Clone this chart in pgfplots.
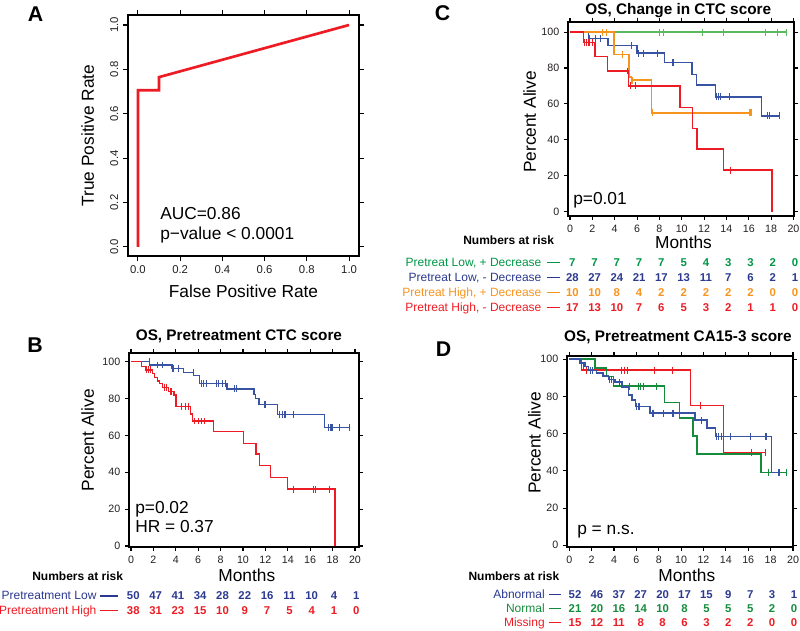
\documentclass[border=0pt]{standalone}
\usepackage{pgfplots}
\pgfplotsset{compat=1.18}
\usepackage{fontspec}
\setmainfont{Liberation Sans}
\definecolor{kmred}{RGB}{237,28,36}
\definecolor{kmblue}{RGB}{57,83,164}
\definecolor{txtblue}{RGB}{43,57,144}
\definecolor{kmgreenC}{RGB}{92,184,92}
\definecolor{txtgreen}{RGB}{0,150,70}
\definecolor{kmgreenD}{RGB}{20,140,60}
\definecolor{kmorange}{RGB}{247,148,29}
\definecolor{tickgray}{RGB}{35,31,32}
\pgfplotsset{
  every axis title shift=0pt,
  kmaxis/.style={anchor=south west, scale only axis, clip=false,
    axis line style={line width=1.1pt, black},
    tick align=outside, major tick length=3pt,
    tick style={line width=0.8pt, black},
    xtick={0,2,...,20}, ytick={0,20,...,100},
    ticklabel style={font=\fontsize{8}{8}\selectfont, text=tickgray},
    /pgf/number format/assume math mode=true,
    title style={font=\fontsize{11.5}{12}\selectfont\bfseries, anchor=center},
    label style={font=\fontsize{13}{14}\selectfont},
    xlabel={Months}, ylabel={Percent Alive}},
  km/.style={const plot, line width=1.1pt, mark=none},
  cens/.style={only marks, mark=|, mark size=2.6pt, mark options={line width=0.8pt}},
}
\begin{document}
\begin{tikzpicture}
\path[use as bounding box] (0,0) rectangle (600pt,473.25pt);

% ---------------- A ----------------
\begin{axis}[anchor=south west, at={(96pt,281.25pt)}, scale only axis,
  width=173.25pt, height=180.75pt,
  xmin=-0.047, xmax=1.047, ymin=-0.041, ymax=1.045,
  axis line style={line width=1.1pt, black},
  tick align=outside, major tick length=3.75pt,
  tick style={line width=0.8pt, black},
  xtick={0,0.2,0.4,0.6,0.8,1}, ytick={0,0.2,0.4,0.6,0.8,1},
  xticklabels={0.0,0.2,0.4,0.6,0.8,1.0}, yticklabels={0.0,0.2,0.4,0.6,0.8,1.0},
  ticklabel style={font=\fontsize{8.5}{9}\selectfont, text=tickgray},
  yticklabel style={rotate=90, anchor=south},
  label style={font=\fontsize{13}{14}\selectfont},
  xlabel={False Positive Rate}, ylabel={True Positive Rate},
  xlabel style={at={(axis description cs:0.5,-0.148)}, anchor=center},
  ylabel style={at={(axis description cs:-0.175,0.5)}, anchor=center}]
\addplot[kmred, line width=2pt, mark=none] coordinates {(0,0) (0,0.706) (0.1,0.706) (0.1,0.765) (1,1)};
\end{axis}

% ---------------- B ----------------
\begin{axis}[kmaxis, at={(96.75pt,63pt)}, width=172.5pt, height=145.5pt,
  xmin=-0.18, xmax=20.36, ymin=-0.54, ymax=104.7,
  title={OS, Pretreatment CTC score},
  title style={at={(axis description cs:0.478,1.084)}},
  xlabel style={at={(axis description cs:0.512,-0.144)}, anchor=center},
  ylabel style={at={(axis description cs:-0.18,0.55)}, anchor=center}]
\addplot[km, kmblue] coordinates {(0,100) (1.65,98.2) (3.65,96.3) (4.7,94.2) (5.6,92.4) (6.1,88.2) (8.57,85.2) (10.98,82.1) (11.13,80.1) (11.43,76.9) (13.07,71.4) (17.3,64.4) (19.55,64.4)};
\addplot[cens, kmblue] coordinates {(1.64,100) (2.35,98.2) (2.8,98.2) (3.75,96.3) (4.2,96.3) (5.57,94.2) (6.3,88.2) (6.5,88.2) (6.7,88.2) (7.6,88.2) (7.8,88.2) (8.2,88.2) (8.45,88.2) (9.25,85.2) (9.43,85.2) (11.9,76.9) (12.05,76.9) (13.3,71.4) (13.5,71.4) (13.75,71.4) (14.55,71.4) (17.65,64.4) (17.8,64.4) (17.95,64.4) (18.66,64.4) (19.5,64.4)};
\addplot[km, kmred] coordinates {(0,100) (0.95,97.4) (1.3,95.5) (1.93,93.5) (2.1,91.5) (2.35,89.5) (2.55,88.2) (2.8,86.1) (3.33,83.7) (3.84,81.8) (4.0,75.6) (5.33,71.6) (5.48,67.8) (7.35,62) (10.03,55.7) (11.16,49.9) (11.46,43.6) (12.47,37.3) (13.96,30.9) (18.2,0)};
\addplot[cens, kmred] coordinates {(1.4,95.5) (1.6,95.5) (1.75,95.5) (2.95,86.1) (3.15,86.1) (3.5,83.7) (3.65,83.7) (4.5,75.6) (4.9,75.6) (5.15,75.6) (5.7,67.8) (6.05,67.8) (6.3,67.8) (6.6,67.8) (14.5,30.9) (16.3,30.9) (16.45,30.9) (17.7,30.9)};
\end{axis}

% ---------------- C ----------------
\begin{axis}[kmaxis, at={(426pt,311.25pt)}, width=169.5pt, height=145.5pt,
  xmin=-0.18, xmax=20.05, ymin=-2.4, ymax=105.6,
  title={OS, Change in CTC score},
  title style={at={(axis description cs:0.488,1.057)}},
  xlabel style={at={(axis description cs:0.511,-0.137)}, anchor=center},
  ylabel style={at={(axis description cs:-0.17,0.485)}, anchor=center}]
\addplot[km, kmgreenC] coordinates {(0,100) (19.45,100)};
\addplot[cens, kmgreenC] coordinates {(8.05,100) (8.35,100) (11.9,100) (13.75,100) (17.5,100) (18.55,100) (19.4,100)};
\addplot[km, kmblue] coordinates {(0,100) (1.65,96.3) (3.4,92.6) (6.0,88.3) (8.45,83) (10.9,76.5) (11.3,70.4) (13.0,63.9) (17.15,53.3) (18.8,53.3)};
\addplot[cens, kmblue] coordinates {(1.75,96.3) (2.24,96.3) (2.69,96.3) (5.5,92.6) (6.15,88.3) (6.57,88.3) (7.8,88.3) (9.15,83) (9.3,83) (13.15,63.9) (13.3,63.9) (13.45,63.9) (14.3,63.9) (17.66,53.3) (17.84,53.3) (18.75,53.3)};
\addplot[km, kmorange] coordinates {(0,100) (3.94,87.6) (5.3,75) (5.5,73.2) (7.3,55) (16.25,55)};
\addplot[cens, kmorange] coordinates {(2.9,100) (3.3,100) (4.7,87.6) (5.55,73.2) (7.35,55) (16.1,55) (16.2,55)};
\addplot[km, kmred] coordinates {(0,100) (1.19,94.1) (2.24,86.5) (3.37,78.3) (5.22,70) (9.85,58) (10.98,46.3) (11.35,34.8) (13.73,23.1) (18.06,0)};
\addplot[cens, kmred] coordinates {(1.3,94.1) (1.5,94.1) (1.7,94.1) (2.0,94.1) (5.13,78.3) (5.45,70) (5.9,70) (14.33,23.1)};
\end{axis}

% ---------------- D ----------------
\begin{axis}[kmaxis, at={(425.25pt,63pt)}, width=169.5pt, height=143.25pt,
  xmin=-0.2, xmax=20, ymin=-0.9, ymax=101.7,
  title={OS, Pretreatment CA15-3 score},
  title style={at={(axis description cs:0.491,1.097)}},
  xlabel style={at={(axis description cs:0.53,-0.147)}, anchor=center},
  ylabel style={at={(axis description cs:-0.144,0.545)}, anchor=center}]
\addplot[km, kmred] coordinates {(0,100) (1.1,94.1) (10.85,75.1) (13.8,50) (17.5,50)};
\addplot[cens, kmred] coordinates {(1.56,94.1) (4.7,94.1) (4.95,94.1) (5.2,94.1) (7.6,94.1) (9.2,94.1) (11.75,75.1) (16.3,50) (17.5,50)};
\addplot[km, kmgreenD] coordinates {(0,100) (2.3,95.2) (3.35,90.7) (3.95,85.5) (8.5,76.7) (9.85,68.3) (11.05,58.8) (11.4,49.1) (17.15,39.2) (19.5,39.2)};
\addplot[cens, kmgreenD] coordinates {(5.4,85.5) (6.2,85.5) (6.35,85.5) (6.6,85.5) (7.8,85.5) (17.8,39.2) (18.7,39.2) (19.45,39.2)};
\addplot[km, kmblue] coordinates {(0,100) (0.95,98) (1.4,96) (1.7,94) (2.45,92.5) (3.0,91) (3.5,89) (4.1,87.7) (4.7,85) (5.3,80.8) (5.6,78.1) (5.9,74.5) (7.2,71) (11.25,67.2) (12.3,62.9) (13.05,58.4) (18.1,39) (18.8,39)};
\addplot[cens, kmblue] coordinates {(1.3,96) (1.9,94) (2.1,94) (3.6,89) (3.8,89) (4.5,87.7) (6.0,74.5) (6.15,74.5) (6.3,74.5) (7.4,71) (7.55,71) (8.4,71) (9.2,71) (9.35,71) (11.85,67.2) (13.2,58.4) (13.35,58.4) (13.6,58.4) (14.4,58.4) (16.2,58.4) (17.5,58.4) (17.65,58.4) (18.75,39)};
\end{axis}

% ---------------- text in pixel coordinates ----------------
\begin{scope}[x=0.75pt, y=-0.75pt, yshift=473.25pt]
\tikzset{lett/.style={font=\fontsize{16}{16}\selectfont\bfseries, inner sep=0pt},
  ann/.style={font=\fontsize{13}{14}\selectfont, anchor=base west, inner sep=0pt},
  nar/.style={font=\fontsize{9}{10}\selectfont\bfseries, anchor=base west, inner sep=0pt},
  rlab/.style={font=\fontsize{9}{10}\selectfont, anchor=base east, inner sep=0pt},
  rnum/.style={font=\fontsize{8.5}{10}\selectfont\bfseries, anchor=base, inner sep=0pt}}
\node[lett] at (35.5,14.5) {A};
\node[lett] at (35,345.5) {B};
\node[lett] at (442.5,13.5) {C};
\node[lett] at (443.5,349.5) {D};
\node[ann] at (160,220) {AUC=0.86};
\node[ann] at (160,240) {p−value < 0.0001};
\node[ann] at (135,513.3) {p=0.02};
\node[ann] at (135,532.7) {HR = 0.37};
\node[ann] at (573,205) {p=0.01};
\node[ann] at (577,535) {p = n.s.};
% B risk table
\node[nar] at (32,580.7) {Numbers at risk};
\node[rlab, text=txtblue] at (96.7,600) {Pretreatment Low};
\draw[txtblue, line width=0.8pt] (100,596) -- (118.3,596);
\foreach \v [count=\k from 0] in {50,47,41,34,28,22,16,11,10,4,1}
  \node[rnum, text=txtblue] at ({133.3+22.3*\k},600) {\v};
\node[rlab, text=kmred] at (96.7,614.3) {Pretreatment High};
\draw[kmred, line width=0.8pt] (100,610.3) -- (118.3,610.3);
\foreach \v [count=\k from 0] in {38,31,23,15,10,9,7,5,4,1,0}
  \node[rnum, text=kmred] at ({133.3+22.3*\k},614.3) {\v};
% C risk table
\node[nar] at (463,245) {Numbers at risk};
\node[rlab, text=txtgreen] at (541.7,266.7) {Pretreat Low, + Decrease};
\draw[txtgreen, line width=0.8pt] (546.7,262.7) -- (560,262.7);
\foreach \v [count=\k from 0] in {7,7,7,7,7,5,4,3,3,2,0}
  \node[rnum, text=txtgreen] at ({572.3+22.27*\k},266.7) {\v};
\node[rlab, text=txtblue] at (541.7,281.7) {Pretreat Low, - Decrease};
\draw[txtblue, line width=0.8pt] (546.7,277.7) -- (560,277.7);
\foreach \v [count=\k from 0] in {28,27,24,21,17,13,11,7,6,2,1}
  \node[rnum, text=txtblue] at ({572.3+22.27*\k},281.7) {\v};
\node[rlab, text=kmorange] at (541.7,296.7) {Pretreat High, + Decrease};
\draw[kmorange, line width=0.8pt] (546.7,292.7) -- (560,292.7);
\foreach \v [count=\k from 0] in {10,10,8,4,2,2,2,2,2,0,0}
  \node[rnum, text=kmorange] at ({572.3+22.27*\k},296.7) {\v};
\node[rlab, text=kmred] at (541.7,311.7) {Pretreat High, - Decrease};
\draw[kmred, line width=0.8pt] (546.7,307.7) -- (560,307.7);
\foreach \v [count=\k from 0] in {17,13,10,7,6,5,3,2,1,1,0}
  \node[rnum, text=kmred] at ({572.3+22.27*\k},311.7) {\v};
% D risk table
\node[nar] at (468.3,580.7) {Numbers at risk};
\node[rlab, text=txtblue] at (545,598.3) {Abnormal};
\draw[txtblue, line width=0.8pt] (549.3,594.3) -- (560.7,594.3);
\foreach \v [count=\k from 0] in {52,46,37,27,20,17,15,9,7,3,1}
  \node[rnum, text=txtblue] at ({575+21.9*\k},598.3) {\v};
\node[rlab, text=kmgreenD] at (545,612.3) {Normal};
\draw[kmgreenD, line width=0.8pt] (549.3,608.3) -- (560.7,608.3);
\foreach \v [count=\k from 0] in {21,20,16,14,10,8,5,5,5,2,0}
  \node[rnum, text=kmgreenD] at ({575+21.9*\k},612.3) {\v};
\node[rlab, text=kmred] at (545,626.7) {Missing};
\draw[kmred, line width=0.8pt] (549.3,622.7) -- (560.7,622.7);
\foreach \v [count=\k from 0] in {15,12,11,8,8,6,3,2,2,0,0}
  \node[rnum, text=kmred] at ({575+21.9*\k},626.7) {\v};
\end{scope}
\end{tikzpicture}
\end{document}
